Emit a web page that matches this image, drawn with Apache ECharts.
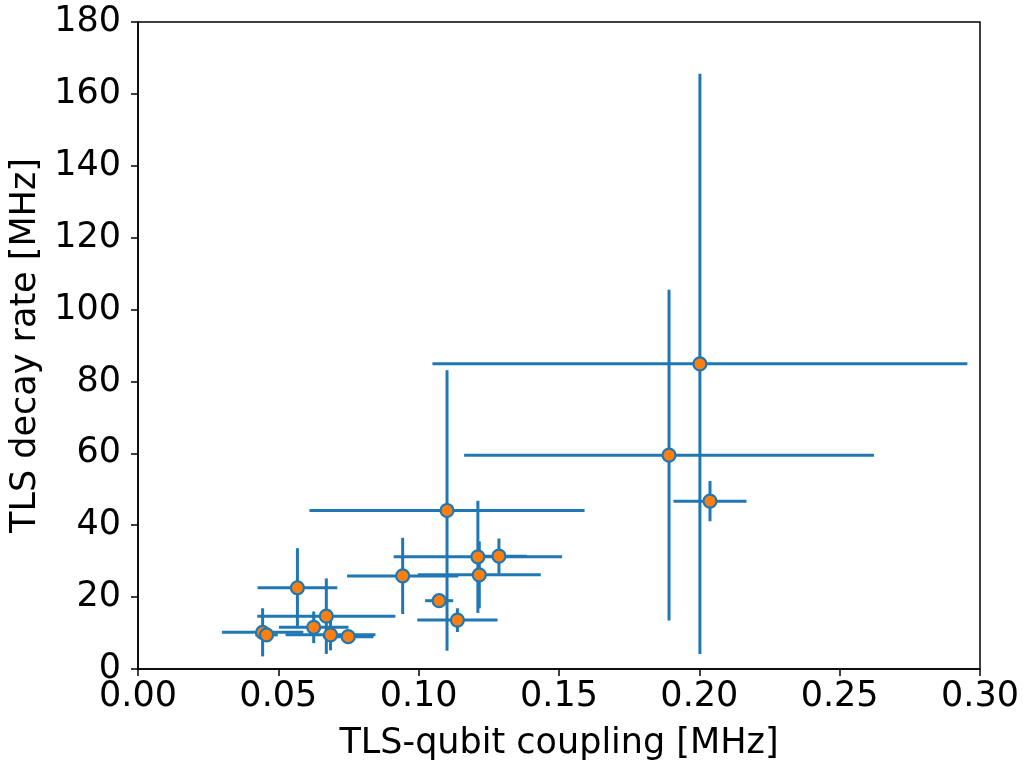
<!DOCTYPE html>
<html>
<head>
<meta charset="utf-8">
<script src="https://cdn.jsdelivr.net/npm/echarts@6/dist/echarts.min.js"></script>
<style>
  html, body { margin: 0; padding: 0; background: #fff; }
  #chart { width: 1023px; height: 760px; }
</style>
</head>
<body>
<div id="chart"></div>
<script>
// TLS coupling vs decay rate
const coupling = [0.0444, 0.0458, 0.0568, 0.0626, 0.0671, 0.0686, 0.0749, 0.0943, 0.1073, 0.1101, 0.1138, 0.1211, 0.1216, 0.1286, 0.1892, 0.2002, 0.2038];
const couplingErr = [0.0145, 0.004, 0.0142, 0.0124, 0.0246, 0.016, 0.009, 0.0198, 0.005, 0.049, 0.0143, 0.030, 0.0219, 0.010, 0.073, 0.0953, 0.013];
const decay = [10.2, 9.5, 22.6, 11.6, 14.7, 9.5, 9.0, 25.9, 19.0, 44.1, 13.6, 31.2, 26.2, 31.4, 59.5, 84.9, 46.7];
const decayErr = [6.7, 1.0, 11.0, 4.4, 10.5, 4.3, 1.0, 10.6, 0.8, 39.0, 3.3, 15.6, 9.3, 4.9, 46.0, 80.7, 5.6];

const errData = coupling.map((x, i) => [x, decay[i], couplingErr[i], decayErr[i]]);
const pointData = coupling.map((x, i) => [x, decay[i]]);

const blue = '#1f77b4';
const orange = '#ff7f0e';
const font = 'DejaVu Sans';

const chart = echarts.init(document.getElementById('chart'), null, { renderer: 'canvas' });

const option = {
  animation: false,
  grid: {
    left: 138, right: 43, top: 22, bottom: 91,
    containLabel: false,
    outerBoundsMode: 'none',
    show: true, borderColor: '#000', borderWidth: 1.5
  },
  xAxis: {
    type: 'value',
    min: 0, max: 0.3, interval: 0.05,
    name: 'TLS-qubit coupling [MHz]',
    nameLocation: 'middle',
    nameGap: 57,
    nameTextStyle: { fontFamily: font, fontSize: 35, color: '#000' },
    axisLine: { show: true, lineStyle: { color: '#000', width: 1.5 } },
    axisTick: { show: true, inside: false, length: 7, lineStyle: { color: '#000', width: 1.5 } },
    axisLabel: {
      fontFamily: font, fontSize: 35, color: '#000', margin: 10,
      formatter: v => v.toFixed(2)
    },
    splitLine: { show: false }
  },
  yAxis: {
    type: 'value',
    min: 0, max: 180, interval: 20,
    name: 'TLS decay rate [MHz]',
    nameLocation: 'middle',
    nameGap: 95,
    nameTextStyle: { fontFamily: font, fontSize: 35, color: '#000' },
    axisLine: { show: true, lineStyle: { color: '#000', width: 1.5 } },
    axisTick: { show: true, inside: false, length: 7, lineStyle: { color: '#000', width: 1.5 } },
    axisLabel: { fontFamily: font, fontSize: 35, color: '#000', margin: 17 },
    splitLine: { show: false }
  },
  series: [
    {
      type: 'custom',
      z: 2,
      data: errData,
      renderItem: function (params, api) {
        const x = api.value(0), y = api.value(1);
        const dx = api.value(2), dy = api.value(3);
        const left = api.coord([x - dx, y]);
        const right = api.coord([x + dx, y]);
        const top = api.coord([x, y + dy]);
        const bottom = api.coord([x, y - dy]);
        const style = { stroke: blue, lineWidth: 3 };
        return {
          type: 'group',
          children: [
            { type: 'line', shape: { x1: left[0], y1: left[1], x2: right[0], y2: right[1] }, style: style },
            { type: 'line', shape: { x1: top[0], y1: top[1], x2: bottom[0], y2: bottom[1] }, style: style }
          ]
        };
      }
    },
    {
      type: 'scatter',
      z: 3,
      data: pointData,
      symbol: 'circle',
      symbolSize: 13,
      itemStyle: { color: orange, borderColor: blue, borderWidth: 2.2, opacity: 1 }
    }
  ]
};

chart.setOption(option);
</script>
</body>
</html>
